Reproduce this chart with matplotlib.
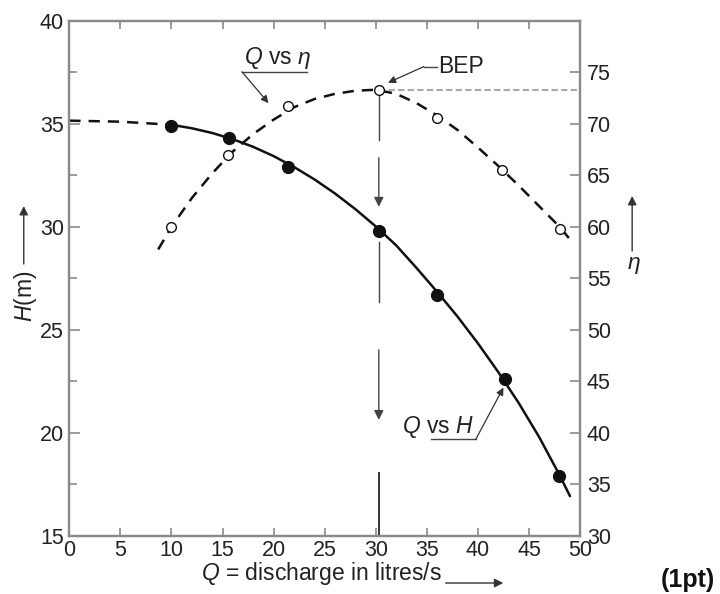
import matplotlib
matplotlib.use("Agg")
import matplotlib.pyplot as plt
import matplotlib.ticker as mticker
from matplotlib.patches import FancyArrowPatch

plt.rcParams.update({
    "font.family": ["Liberation Sans", "DejaVu Sans"],
    "mathtext.fontset": "custom",
    "mathtext.it": "Liberation Sans:italic",
    "mathtext.rm": "Liberation Sans",
})

# ── Data ──────────────────────────────────────────────────────────────────
# measured points
q_pts = [10, 15.6, 21.4, 30.3, 36.0, 42.7, 47.9]
h_pts = [34.9, 34.3, 32.9, 29.8, 26.7, 22.6, 17.9]
q_eta_pts = [10, 15.5, 21.4, 30.3, 36.0, 42.4, 48.0]
eta_pts = [60.0, 67.0, 71.7, 73.3, 70.6, 65.5, 59.8]

# drawn Q-H curve (dashed extrapolation to shut-off, then solid)
q_h_ext = [0, 5, 10]
h_h_ext = [35.15, 35.1, 34.95]
q_h_curve = [10, 12, 14, 16, 18, 20, 22, 24, 26, 28, 30, 32, 34, 36, 38,
             40, 42, 44, 46, 48, 49]
h_h_curve = [34.95, 34.78, 34.55, 34.25, 33.88, 33.43, 32.9, 32.3, 31.62,
             30.86, 30.02, 29.1, 28.0, 26.85, 25.65, 24.35, 22.95, 21.45,
             19.8, 17.95, 16.95]

# drawn Q-eta curve
q_eta_curve = [8.7, 10, 12, 14, 16, 18, 20, 22, 24, 26, 28, 30, 32, 34, 36,
               38, 40, 42, 44, 46, 48, 49]
eta_curve = [57.8, 60.0, 62.8, 65.2, 67.3, 69.0, 70.4, 71.6, 72.4, 72.9, 73.2,
             73.3, 72.9, 72.0, 70.8, 69.4, 67.7, 65.9, 64.0, 62.0, 60.0, 58.8]

q_bep = 30.3
eta_bep = 73.3

INK = "#111111"
AXIS_GREY = "#8a8a8a"
TEXT = "#222222"
TICK_FS = 15.5
LABEL_FS = 16.5

fig = plt.figure(figsize=(7.2, 5.94), dpi=100)
ax = fig.add_axes([0.0963, 0.0976, 0.7093, 0.8676])
ax2 = ax.twinx()

ax.set_xlim(0, 50)
ax.set_ylim(15, 40)
ax2.set_ylim(30, 80)

# Q-H
ax.plot(q_h_ext, h_h_ext, color=INK, lw=1.8, dashes=(4.5, 3.2))
ax.plot(q_h_curve, h_h_curve, color=INK, lw=1.8)
ax.plot(q_pts, h_pts, "o", color=INK, ms=8.5, zorder=5)

# Q-eta
ax2.plot(q_eta_curve, eta_curve, color=INK, lw=1.8, dashes=(4.5, 3.2))
ax2.plot(q_eta_pts, eta_pts, "o", mfc="white", mec=INK, mew=1.0, ms=7, zorder=5)

# BEP guide lines
ax2.plot([q_bep, 50], [eta_bep, eta_bep], color="#a8a8a8", lw=1.5,
         dashes=(3, 1.6), zorder=1)
vline = "#444444"
h_bep = eta_bep / 2
ax.plot([q_bep, q_bep], [h_bep - 0.15, 34.22], color=vline, lw=1.0)
ax.annotate("", xy=(q_bep, 30.97), xytext=(q_bep, 33.35),
            arrowprops=dict(arrowstyle="-|>", color=vline, lw=1.0,
                            mutation_scale=14, shrinkA=0, shrinkB=0))
ax.plot([q_bep, q_bep], [29.27, 26.36], color=vline, lw=1.0)
ax.annotate("", xy=(q_bep, 20.63), xytext=(q_bep, 24.03),
            arrowprops=dict(arrowstyle="-|>", color=vline, lw=1.0,
                            mutation_scale=14, shrinkA=0, shrinkB=0))
ax.plot([q_bep, q_bep], [18.06, 15], color="#222222", lw=1.3)

# Labels on curves
ax.text(20.35, 38.2, r"$Q$ vs $\eta$", ha="center", va="center",
        fontsize=LABEL_FS, color=TEXT)
ax.plot([16.9, 23.3], [37.52, 37.52], color="#444444", lw=1.0)
ax.annotate("", xy=(19.5, 36.0), xytext=(16.9, 37.52),
            arrowprops=dict(arrowstyle="-|>", color="#333333", lw=0.9,
                            mutation_scale=11, shrinkA=0, shrinkB=0))

ax.text(36.1, 37.8, "BEP", ha="left", va="center", fontsize=LABEL_FS,
        color=TEXT)
ax.plot([34.7, 36.0], [37.77, 37.77], color="#444444", lw=1.0)
ax.annotate("", xy=(31.2, 36.99), xytext=(34.7, 37.77),
            arrowprops=dict(arrowstyle="-|>", color="#333333", lw=0.9,
                            mutation_scale=11, shrinkA=0, shrinkB=0))

ax.text(36.1, 20.3, r"$Q$ vs $H$", ha="center", va="center",
        fontsize=LABEL_FS, color=TEXT)
ax.plot([35.4, 39.8], [19.7, 19.7], color="#444444", lw=1.0)
ax.annotate("", xy=(42.5, 22.2), xytext=(39.8, 19.7),
            arrowprops=dict(arrowstyle="-|>", color="#333333", lw=0.9,
                            mutation_scale=11, shrinkA=0, shrinkB=0))

# Axes styling
for a in (ax, ax2):
    for s in a.spines.values():
        s.set_color(AXIS_GREY)
        s.set_linewidth(1.6)

ax.xaxis.set_major_locator(mticker.MultipleLocator(5))
ax.yaxis.set_major_locator(mticker.MultipleLocator(5))
ax.yaxis.set_minor_locator(mticker.MultipleLocator(2.5))
ax2.yaxis.set_major_locator(mticker.FixedLocator([30, 35, 40, 45, 50, 55,
                                                  60, 65, 70, 75]))
ax.tick_params(axis="x", direction="in", top=True, length=6, width=1.2,
               color=AXIS_GREY, labelsize=TICK_FS, labelcolor=TEXT, pad=3)
ax.tick_params(axis="y", which="major", direction="in", length=8, width=1.2,
               color=AXIS_GREY, labelsize=TICK_FS, labelcolor=TEXT, pad=4)
ax.tick_params(axis="y", which="minor", direction="in", length=6, width=1.2,
               color=AXIS_GREY)
ax2.tick_params(axis="y", direction="in", length=7, width=1.2,
                color=AXIS_GREY, labelsize=TICK_FS, labelcolor=TEXT, pad=5)

# Axis titles with their arrows
arrow_kw = dict(transform=fig.transFigure, arrowstyle="-|>", mutation_scale=13,
                color="#333333", lw=1.0, shrinkA=0, shrinkB=0)

fig.text(0.035, 1 - 296 / 594, r"$H$(m)", rotation=90, ha="center",
         va="center", fontsize=LABEL_FS, color=TEXT)
fig.add_artist(FancyArrowPatch((0.033, 1 - 264 / 594), (0.033, 1 - 206 / 594),
                               **arrow_kw))

fig.text(0.881, 1 - 265 / 594, r"$\eta$", ha="center", va="center",
         fontsize=LABEL_FS, color=TEXT)
fig.add_artist(FancyArrowPatch((0.878, 1 - 251 / 594), (0.878, 1 - 196 / 594),
                               **arrow_kw))

fig.text(0.446, 1 - 580 / 594, r"$Q$ = discharge in litres/s", ha="center",
         va="baseline", fontsize=LABEL_FS, color=TEXT)
fig.add_artist(FancyArrowPatch((0.619, 1 - 583 / 594), (0.699, 1 - 583 / 594),
                               **arrow_kw))

fig.text(0.955, 1 - 580 / 594, "(1pt)", ha="center", va="center",
         fontsize=18, fontweight="bold", color="#111111")

fig.savefig("out.png", dpi=100, facecolor="white")
